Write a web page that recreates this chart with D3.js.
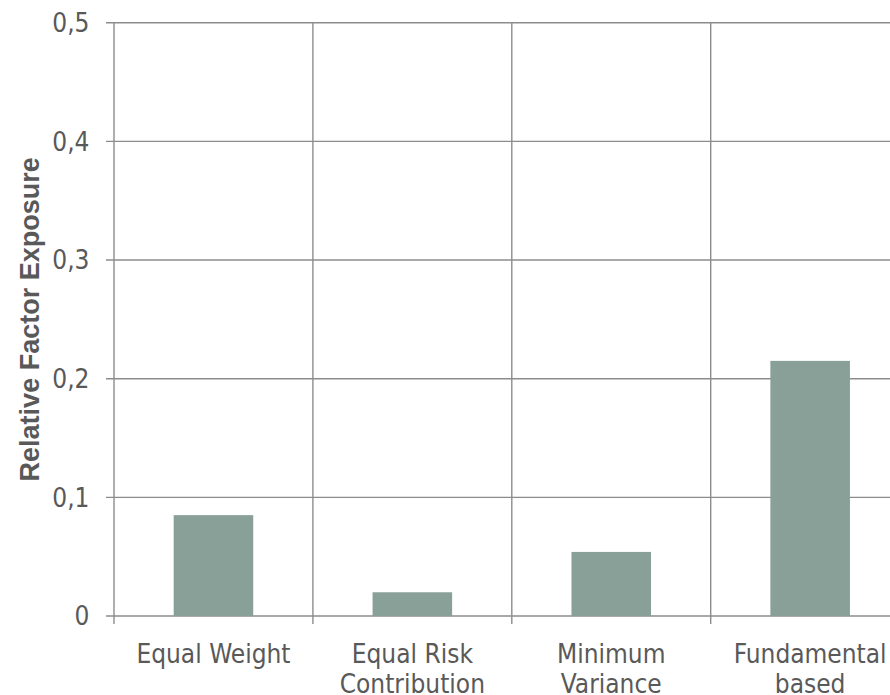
<!DOCTYPE html>
<html>
<head>
<meta charset="utf-8">
<script src="https://cdn.jsdelivr.net/npm/d3@7"></script>
<style>
  body { margin: 0; background: #fff; }
  svg { display: block; }
  .tick-label { font-family: 'DejaVu Sans Condensed', 'DejaVu Sans', sans-serif; font-size: 26px; fill: #595959; }
  .axis-title { font-family: 'Liberation Sans', Arial, sans-serif; font-weight: bold; font-size: 27px; fill: #595959; }
</style>
</head>
<body>
<svg id="chart" width="890" height="695"></svg>
<script>
const categories = [
  ["Equal Weight"],
  ["Equal Risk", "Contribution"],
  ["Minimum", "Variance"],
  ["Fundamental", "based"]
];
const values = [0.085, 0.02, 0.054, 0.215];
const yTicks = [0, 0.1, 0.2, 0.3, 0.4, 0.5];
const yTickLabels = ["0", "0,1", "0,2", "0,3", "0,4", "0,5"];

const svg = d3.select('#chart');
const gridColor = '#8c8c8c';
const barColor = '#88a097';

// plot area (right edge runs past the window, as in the reference)
const plotLeft = 114, plotTop = 22.7, plotBottom = 616, plotRight = 909.6;

const names = categories.map(c => c.join(' '));
const x = d3.scaleBand().domain(names).range([plotLeft, plotRight]).padding(0);
const y = d3.scaleLinear().domain([0, 0.5]).range([plotBottom, plotTop]);

// horizontal gridlines with ticks on the left
svg.append('g')
  .selectAll('line')
  .data(yTicks)
  .join('line')
  .attr('x1', plotLeft - 8)
  .attr('x2', plotRight)
  .attr('y1', d => y(d))
  .attr('y2', d => y(d))
  .attr('stroke', gridColor)
  .attr('stroke-width', 1.4);

// vertical gridlines at category boundaries, ticks below the baseline
svg.append('g')
  .selectAll('line')
  .data(names)
  .join('line')
  .attr('x1', d => x(d))
  .attr('x2', d => x(d))
  .attr('y1', plotTop)
  .attr('y2', plotBottom + 8)
  .attr('stroke', gridColor)
  .attr('stroke-width', 1.4);

// bars
const barW = x.bandwidth() * 0.4;
svg.append('g')
  .selectAll('rect')
  .data(values)
  .join('rect')
  .attr('x', (d, i) => x(names[i]) + (x.bandwidth() - barW) / 2)
  .attr('y', d => y(d))
  .attr('width', barW)
  .attr('height', d => plotBottom - y(d))
  .attr('fill', barColor);

// y tick labels
svg.append('g')
  .selectAll('text')
  .data(yTicks)
  .join('text')
  .attr('class', 'tick-label')
  .attr('x', 89.5)
  .attr('y', d => y(d))
  .attr('dy', '0.36em')
  .attr('text-anchor', 'end')
  .text((d, i) => yTickLabels[i]);

// category labels
const catLabels = svg.append('g')
  .selectAll('text')
  .data(categories)
  .join('text')
  .attr('class', 'tick-label')
  .attr('text-anchor', 'middle')
  .attr('x', (d, i) => x(names[i]) + x.bandwidth() / 2)
  .attr('y', 662.5);

catLabels.selectAll('tspan')
  .data(d => d)
  .join('tspan')
  .attr('x', function() { return this.parentNode.getAttribute('x'); })
  .attr('dy', (d, i) => i === 0 ? 0 : 30)
  .text(d => d);

// y axis title
svg.append('text')
  .attr('class', 'axis-title')
  .attr('transform', `translate(38.5, ${(plotTop + plotBottom) / 2}) rotate(-90)`)
  .attr('text-anchor', 'middle')
  .text('Relative Factor Exposure');
</script>
</body>
</html>
